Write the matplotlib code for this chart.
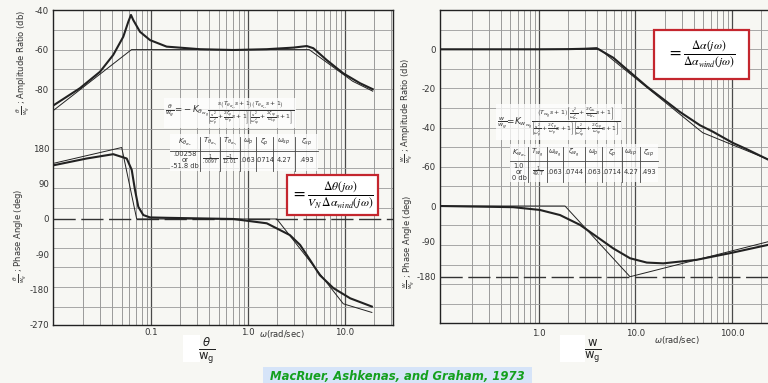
import matplotlib
matplotlib.use("Agg")
import matplotlib.pyplot as plt
from matplotlib.ticker import LogLocator, MultipleLocator, NullFormatter
from matplotlib.patches import Rectangle
from matplotlib.lines import Line2D

W, H = 768, 383
PAPER = '#f7f7f3'
INK = '#222222'

# theta / wg  -- exact curve (thick) and straight-line asymptotes (thin)
th_amp_w = [0.01, 0.0185, 0.0298, 0.0408, 0.0518, 0.0584, 0.0622, 0.0657, 0.077, 0.0977,
            0.145, 0.32, 0.705, 1.56, 2.93, 4.03, 4.71, 6.48, 9.6, 14.3, 19.3]
th_amp_db = [-88.0, -79.5, -71.2, -62.7, -53.5, -45.9, -42.5, -45.1, -51.0, -55.2,
             -58.5, -59.8, -60.2, -59.8, -59.0, -58.2, -59.3, -65.3, -72.0, -77.0, -80.0]
th_asy_w = [0.01, 0.063, 4.27, 12.0, 19.3]
th_asy_db = [-90.5, -60.0, -60.0, -76.0, -81.0]

th_ph_w = [0.01, 0.0217, 0.0408, 0.0562, 0.0633, 0.0684, 0.074, 0.0833, 0.0977, 0.145,
           0.705, 1.56, 2.7, 3.44, 4.35, 5.5, 7.58, 11.3, 18.9]
th_ph_deg = [137, 154, 165, 154, 125, 74, 31, 10, 4, 3,
             0, -11, -41, -66, -104, -143, -176, -202, -223]
th_phasy_w = [0.01, 0.0499, 0.0712, 1.98, 9.6, 18.9]
th_phasy_deg = [142, 182, 0, 0, -216, -238]

# w / wg
w_amp_w = [0.094, 1.0, 2.0, 3.0, 3.96, 5.89, 13.1, 28.9, 46.6, 64, 102, 142, 236]
w_amp_db = [0, 0, 0.1, 0.3, 0.6, -4.3, -19.0, -32.0, -38.8, -42.2, -47.8, -51.0, -56.3]
w_asy_w = [0.094, 4.27, 49.7, 236]
w_asy_db = [0, 0, -42.6, -56.2]

w_ph_w = [0.094, 0.54, 1.02, 1.65, 2.66, 3.96, 5.89, 8.78, 13.1, 19.4, 43, 95.5, 236]
w_ph_deg = [0, -3, -10, -23, -48, -78, -108, -133, -144, -146, -137, -120, -99]
w_phasy_w = [0.094, 1.86, 8.78, 236]
w_phasy_deg = [0, 0, -180, -91]

# table contents
th_head = [r'$K_{\theta_{w_g}}$', r'$T_{\theta_{w_{g_1}}}$', r'$T_{\theta_{w_{g_2}}}$',
           r'$\omega_p$', r'$\zeta_p$', r'$\omega_{sp}$', r'$\zeta_{sp}$']
th_vals = ['.00258\nor\n-51.8 db', r'$\frac{1}{.0097}$', r'$\frac{-1}{12.01}$',
           '.063', '.0714', '4.27', '.493']
w_head = [r'$K_{w_{w_g}}$', r'$T_{w_g}$', r'$\omega_{w_g}$', r'$\zeta_{w_g}$',
          r'$\omega_p$', r'$\zeta_p$', r'$\omega_{sp}$', r'$\zeta_{sp}$']
w_vals = ['1.0\nor\n0 db', r'$\frac{1}{49.7}$', '.063', '.0744', '.063', '.0714', '4.27', '.493']

fig = plt.figure(figsize=(W / 100, H / 100), dpi=100, facecolor=PAPER)


def fx(px):
    return px / W


def fy(py):
    return 1 - py / H


def panel(x0, x1, top, bottom, xlim, amp_lim, ph_lim, amp_ticks, ph_ticks, xticks, xlabels):
    ax = fig.add_axes([fx(x0), fy(bottom), (x1 - x0) / W, (bottom - top) / H])
    ax.set_facecolor(PAPER)
    ax.set_xscale('log')
    ax.set_xlim(xlim)
    ax.set_ylim(amp_lim)
    ax.set_yticks(amp_ticks, labels=[str(t) for t in amp_ticks])
    ax.yaxis.set_minor_locator(MultipleLocator(10))
    ax.set_xticks(xticks, labels=xlabels)
    ax.xaxis.set_minor_locator(LogLocator(base=10, subs=range(2, 10), numticks=30))
    ax.xaxis.set_minor_formatter(NullFormatter())
    ax.grid(which='major', axis='x', color='#4a4a4a', lw=0.9)
    ax.grid(which='minor', axis='x', color='#8c8c8c', lw=0.6)
    ax.grid(which='both', axis='y', color='#9a9a9a', lw=0.6)
    ax.tick_params(which='both', length=0, labelsize=6.2, labelcolor='#333')
    ax.tick_params(axis='y', pad=3)
    ax.tick_params(axis='x', pad=2)
    for s in ax.spines.values():
        s.set_color(INK)
        s.set_linewidth(1.0)
    ph = ax.twinx()
    ph.set_ylim(ph_lim)
    ph.yaxis.tick_left()
    ph.set_yticks(ph_ticks, labels=[str(t) for t in ph_ticks])
    ph.tick_params(length=0, labelsize=6.2, labelcolor='#333', pad=3)
    for s in ph.spines.values():
        s.set_visible(False)
    return ax, ph


# left panel: theta / wg
axL, phL = panel(53.3, 392.7, 10, 325, (0.00984, 31.0), (-199.1, -40), (-270, 532.2),
                 [-40, -60, -80], [180, 90, 0, -90, -180, -270],
                 [0.1, 1, 10], ['0.1', '1.0', '10.0'])
axL.plot(th_amp_w, th_amp_db, color=INK, lw=1.5)
axL.plot(th_asy_w, th_asy_db, color=INK, lw=0.7)
phL.axhline(0, color='#333', lw=1.0, ls=(0, (16, 4)))
phL.plot(th_ph_w, th_ph_deg, color=INK, lw=1.5)
phL.plot(th_phasy_w, th_phasy_deg, color=INK, lw=0.7)

# right panel: w / wg (runs off the right edge)
axR, phR = panel(440, 800, 10, 323.3, (0.0942, 507), (-140, 20.1), (-298.6, 499),
                 [0, -20, -40, -60], [0, -90, -180],
                 [1, 10, 100], ['1.0', '10.0', '100.0'])
axR.tick_params(axis='x', pad=4)
axR.plot(w_amp_w, w_amp_db, color=INK, lw=1.5)
axR.plot(w_asy_w, w_asy_db, color=INK, lw=0.7)
phR.axhline(-180, color='#333', lw=1.0, ls=(0, (16, 4)))
phR.plot(w_ph_w, w_ph_deg, color=INK, lw=1.5)
phR.plot(w_phasy_w, w_phasy_deg, color=INK, lw=0.7)

# axis captions
small = dict(fontsize=6.0, color='#333')
fig.text(fx(23), fy(62), r'$\frac{\theta}{w_g}$ ; Amplitude Ratio (db)', rotation=90,
         ha='center', va='center', **small)
fig.text(fx(20), fy(236), r'$\frac{\theta}{w_g}$ ; Phase Angle (deg)', rotation=90,
         ha='center', va='center', **small)
fig.text(fx(407), fy(110), r'$\frac{w}{w_g}$ ; Amplitude Ratio (db)', rotation=90,
         ha='center', va='center', **small)
fig.text(fx(409), fy(242), r'$\frac{w}{w_g}$ ; Phase Angle (deg)', rotation=90,
         ha='center', va='center', **small)
fig.text(fx(282), fy(334), r'$\omega$(rad/sec)', ha='center', va='center', **small)
fig.text(fx(677), fy(340), r'$\omega$(rad/sec)', ha='center', va='center', **small)

fig.patches.append(Rectangle((fx(183), fy(362)), 17 / W, 27 / H, transform=fig.transFigure,
                             fc='white', ec='none', zorder=1))
fig.patches.append(Rectangle((fx(560), fy(362)), 25 / W, 27 / H, transform=fig.transFigure,
                             fc='white', ec='none', zorder=1))
fig.text(fx(207), fy(351), r'$\frac{\theta}{\mathrm{w_g}}$', fontsize=12, ha='center',
         va='center', color=INK)
fig.text(fx(593), fy(351), r'$\frac{\mathrm{w}}{\mathrm{w_g}}$', fontsize=12, ha='center',
         va='center', color=INK)

# transfer functions
fig.text(fx(230), fy(113),
         r'$\frac{\theta}{w_g}\!=\!-K_{\theta_{w_g}}\frac{s\left(T_{\theta_{w_{g_1}}}s+1\right)'
         r'\left(T_{\theta_{w_{g_2}}}s+1\right)}{\left[\frac{s^2}{\omega_p^2}+\frac{2\zeta_p}'
         r'{\omega_p}s+1\right]\left[\frac{s^2}{\omega_{sp}^2}+\frac{2\zeta_{sp}}{\omega_{sp}}'
         r's+1\right]}$', fontsize=6.2, ha='center', va='center', color='#333',
         bbox=dict(fc='white', ec='none', alpha=0.75, pad=1))
fig.text(fx(559), fy(122),
         r'$\frac{w}{w_g}\!=\!K_{w_{w_g}}\frac{\left(T_{w_g}s+1\right)\left[\frac{s^2}'
         r'{\omega_{w_g}^2}+\frac{2\zeta_{w_g}}{\omega_{w_g}}s+1\right]}{\left[\frac{s^2}'
         r'{\omega_p^2}+\frac{2\zeta_p}{\omega_p}s+1\right]\left[\frac{s^2}{\omega_{sp}^2}+'
         r'\frac{2\zeta_{sp}}{\omega_{sp}}s+1\right]}$', fontsize=6.4, ha='center',
         va='center', color='#333', bbox=dict(fc='white', ec='none', alpha=0.75, pad=1))


def table(edges, head_y, val_y, line_y, y0, y1, heads, vals):
    fig.patches.append(Rectangle((fx(edges[0]), fy(y1)), (edges[-1] - edges[0]) / W,
                                 (y1 - y0) / H, transform=fig.transFigure,
                                 fc='white', ec='none', alpha=0.75, zorder=1))
    for xs in edges[1:-1]:
        fig.add_artist(Line2D([fx(xs), fx(xs)], [fy(y0 + 3), fy(y1)], color='#444', lw=0.6))
    fig.add_artist(Line2D([fx(edges[0]), fx(edges[-1])], [fy(line_y), fy(line_y)],
                          color='#444', lw=0.6))
    for i in range(len(heads)):
        cx = (edges[i] + edges[i + 1]) / 2
        fig.text(fx(cx), fy(head_y), heads[i], fontsize=5.0, ha='center', va='center',
                 color='#333')
        fig.text(fx(cx), fy(val_y), vals[i], fontsize=4.8, ha='center', va='center',
                 color='#333', linespacing=0.9)


table([170, 200, 220, 240, 256, 273, 295, 318], 142, 160, 151, 134, 171, th_head, th_vals)
table([510, 528, 547, 563, 585, 602, 622, 640, 658], 153, 172, 161, 144, 182, w_head, w_vals)

# highlighted ratios
for (x0, y0, x1, y1, txt) in [
        (287, 175, 378, 215, r'$=\frac{\Delta\theta\left(j\omega\right)}'
                             r'{V_N\,\Delta\alpha_{wind}\left(j\omega\right)}$'),
        (654, 30, 749, 79, r'$=\frac{\Delta\alpha\left(j\omega\right)}'
                           r'{\Delta\alpha_{wind}\left(j\omega\right)}$')]:
    fig.patches.append(Rectangle((fx(x0), fy(y1)), (x1 - x0) / W, (y1 - y0) / H,
                                 transform=fig.transFigure, fc='white', ec='#c4262e',
                                 lw=1.6, zorder=5))
    fig.text(fx((x0 + x1) / 2), fy((y0 + y1) / 2), txt, fontsize=12, ha='center',
             va='center', math_fontfamily='stix', color='black', zorder=6)

# source line
fig.patches.append(Rectangle((fx(263), 0), 269 / W, (H - 367) / H, transform=fig.transFigure,
                             fc='#d6e4f8', ec='none', zorder=5))
fig.text(fx(397), fy(376), 'MacRuer, Ashkenas, and Graham, 1973', fontsize=8.4,
         fontweight='bold', fontstyle='italic', color='#14a01e', ha='center', va='center',
         zorder=6)

fig.savefig('out.png', dpi=100, facecolor=PAPER)
